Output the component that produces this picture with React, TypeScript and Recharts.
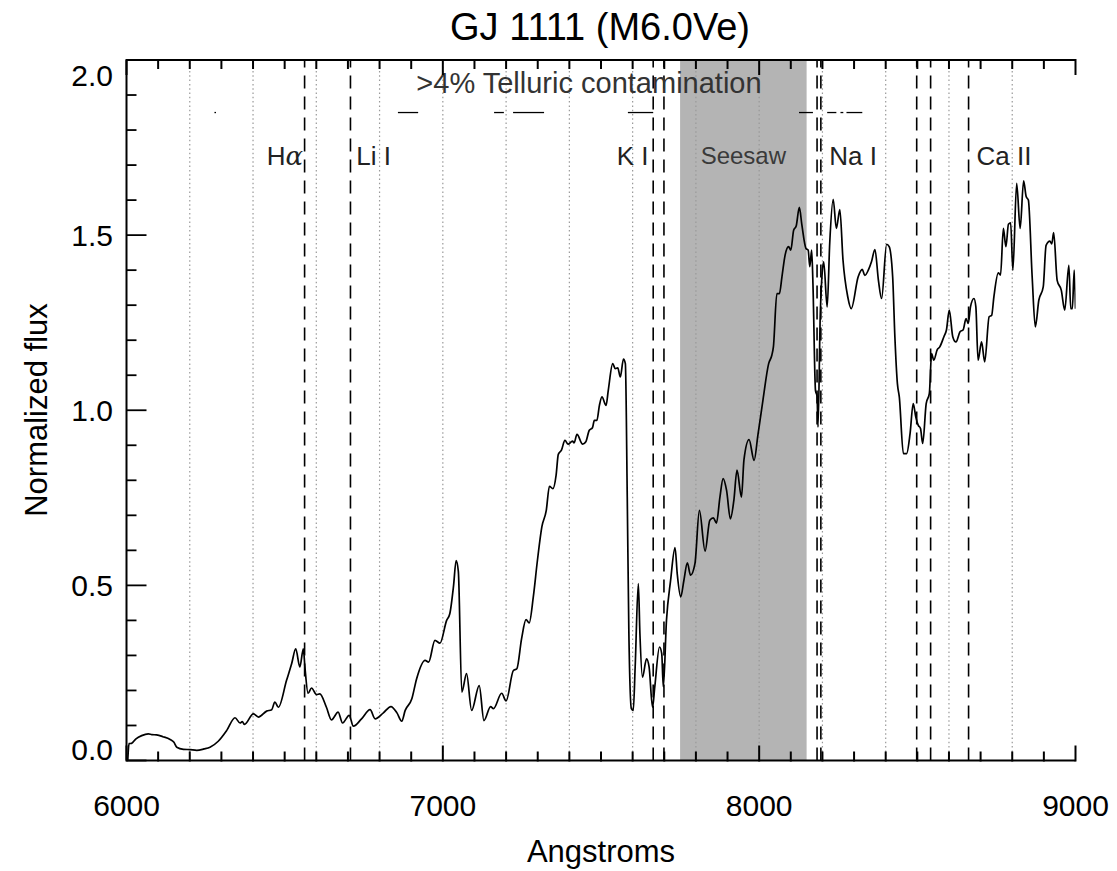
import { LineChart, Line, XAxis, YAxis, ReferenceLine, ReferenceArea, ReferenceDot } from 'recharts'

// spectrum (Angstroms, normalized flux)
const wavelength = [
  6004, 6008, 6016, 6030, 6048, 6069, 6080, 6095, 6115, 6138,
  6150, 6159, 6180, 6201, 6222, 6245, 6264, 6290, 6317, 6343,
  6359, 6366, 6373, 6401, 6417, 6443, 6459, 6469, 6480, 6506,
  6522, 6535, 6548, 6559, 6564, 6574, 6585, 6601, 6611, 6632,
  6648, 6669, 6683, 6704, 6717, 6743, 6770, 6786, 6812, 6836,
  6855, 6870, 6881, 6902, 6917, 6944, 6955, 6975, 6991, 7012,
  7022, 7034, 7042, 7049, 7060, 7075, 7091, 7115, 7130, 7151,
  7160, 7186, 7200, 7223, 7234, 7249, 7263, 7273, 7286, 7299,
  7313, 7327, 7337, 7348, 7358, 7365, 7375, 7386, 7396, 7410,
  7415, 7424, 7442, 7452, 7463, 7473, 7479, 7487, 7495, 7503,
  7516, 7523, 7537, 7545, 7553, 7561, 7571, 7577, 7583, 7588,
  7596, 7602, 7608, 7618, 7623, 7631, 7644, 7652, 7663, 7670,
  7685, 7692, 7697, 7707, 7720, 7734, 7741, 7752, 7762, 7773,
  7783, 7797, 7811, 7829, 7844, 7855, 7865, 7876, 7886, 7897,
  7909, 7920, 7930, 7944, 7952, 7968, 7984, 7996, 8012, 8030,
  8040, 8045, 8056, 8064, 8072, 8082, 8093, 8100, 8109, 8117,
  8127, 8135, 8148, 8155, 8160, 8166, 8170, 8178, 8183, 8186,
  8193, 8199, 8204, 8215, 8223, 8234, 8244, 8255, 8265, 8280,
  8291, 8313, 8326, 8334, 8345, 8355, 8366, 8377, 8387, 8403,
  8411, 8422, 8429, 8437, 8443, 8456, 8466, 8477, 8487, 8495,
  8503, 8510, 8517, 8528, 8538, 8545, 8552, 8563, 8571, 8584,
  8592, 8601, 8612, 8622, 8635, 8645, 8654, 8661, 8668, 8679,
  8685, 8692, 8703, 8713, 8727, 8735, 8742, 8756, 8763, 8772,
  8780, 8788, 8795, 8802, 8814, 8825, 8836, 8844, 8851, 8863,
  8873, 8884, 8898, 8907, 8919, 8925, 8931, 8942, 8955, 8966,
  8979, 8985, 8990, 8996, 9000,
]
const flux = [
  0.0, 0.048, 0.049, 0.062, 0.071, 0.076, 0.074, 0.073, 0.068, 0.06,
  0.052, 0.038, 0.032, 0.031, 0.029, 0.033, 0.038, 0.055, 0.086, 0.122,
  0.107, 0.111, 0.103, 0.133, 0.124, 0.141, 0.145, 0.167, 0.152, 0.229,
  0.276, 0.319, 0.267, 0.319, 0.267, 0.192, 0.207, 0.188, 0.19, 0.152,
  0.116, 0.138, 0.107, 0.129, 0.098, 0.119, 0.145, 0.119, 0.136, 0.154,
  0.136, 0.112, 0.143, 0.176, 0.233, 0.286, 0.281, 0.343, 0.335, 0.4,
  0.419, 0.5, 0.571, 0.54, 0.195, 0.248, 0.143, 0.214, 0.114, 0.154,
  0.148, 0.192, 0.17, 0.257, 0.262, 0.348, 0.402, 0.393, 0.467, 0.571,
  0.667, 0.714, 0.783, 0.776, 0.814, 0.874, 0.886, 0.914, 0.903, 0.912,
  0.907, 0.931, 0.903, 0.91, 0.943, 0.95, 0.971, 0.971, 1.014, 1.038,
  1.014, 1.057, 1.133, 1.119, 1.121, 1.095, 1.146, 1.133, 0.752, 0.371,
  0.148, 0.143, 0.267, 0.505, 0.362, 0.238, 0.29, 0.267, 0.152, 0.21,
  0.324, 0.305, 0.21, 0.4, 0.514, 0.608, 0.533, 0.467, 0.514, 0.564,
  0.529, 0.562, 0.714, 0.598, 0.686, 0.693, 0.678, 0.752, 0.805, 0.771,
  0.69, 0.743, 0.829, 0.752, 0.859, 0.916, 0.857, 0.929, 1.029, 1.133,
  1.157, 1.181, 1.333, 1.333, 1.381, 1.443, 1.467, 1.457, 1.514, 1.526,
  1.579, 1.529, 1.462, 1.457, 1.41, 1.457, 1.362, 1.057, 1.04, 0.952,
  1.267, 1.39, 1.424, 1.295, 1.476, 1.602, 1.519, 1.573, 1.429, 1.324,
  1.29, 1.381, 1.402, 1.385, 1.4, 1.424, 1.459, 1.371, 1.319, 1.474,
  1.467, 1.381, 1.21, 1.076, 1.038, 0.876, 0.876, 0.933, 1.019, 0.981,
  0.957, 0.948, 0.905, 1.019, 1.048, 1.162, 1.143, 1.173, 1.181, 1.21,
  1.229, 1.286, 1.21, 1.195, 1.224, 1.23, 1.262, 1.248, 1.295, 1.319,
  1.295, 1.143, 1.195, 1.138, 1.267, 1.271, 1.324, 1.392, 1.386, 1.519,
  1.467, 1.531, 1.535, 1.4, 1.648, 1.519, 1.655, 1.61, 1.6, 1.381,
  1.238, 1.314, 1.352, 1.471, 1.483, 1.475, 1.507, 1.371, 1.343, 1.286,
  1.414, 1.29, 1.29, 1.4, 1.29,
]

const xTicks = [
  6000, 6100, 6200, 6300, 6400, 6500, 6600, 6700, 6800, 6900,
  7000, 7100, 7200, 7300, 7400, 7500, 7600, 7700, 7800, 7900,
  8000, 8100, 8200, 8300, 8400, 8500, 8600, 8700, 8800, 8900, 9000,
]
const xTickLabels = [6000, 7000, 8000, 9000]
const yTicks = [0, 0.1, 0.2, 0.3, 0.4, 0.5, 0.6, 0.7, 0.8, 0.9, 1, 1.1, 1.2, 1.3, 1.4, 1.5, 1.6, 1.7, 1.8, 1.9, 2]
const yTickLabels = [0, 0.5, 1, 1.5, 2]

// dotted guides and dashed line centres
const dottedGuides = [6200, 6400, 6600, 6800, 7000, 7200, 7400, 7600, 7800, 8000, 8200, 8400, 8600, 8800]
const lineCentres = [6563, 6708, 7665, 7699, 8183, 8195, 8498, 8542, 8662]
const seesawRange = [7750, 8150]

const telluricLevel = 1.85
const telluricStart = [6278, 6858, 7162, 7222, 7585, 8126, 8215, 8257, 8276]
const telluricEnd = [6283, 6922, 7193, 7320, 7665, 8170, 8244, 8266, 8326]

const labelText = ['Hα', 'Li I', 'K I', 'Seesaw', 'Na I', 'Ca II']
const labelWave = [6501, 6781, 7600, 7950, 8297, 8774]
const labelFlux = [1.7, 1.7, 1.7, 1.703, 1.7, 1.7]

const font = '"Liberation Sans", Arial, Helvetica, sans-serif'

const spectrum = wavelength.map((w, i) => ({ w, f: flux[i] }))

function BottomTick({ x, y, payload }: any) {
  const major = xTickLabels.includes(payload.value)
  const len = major ? 15 : 9
  return (
    <g>
      <path d={`M${x},${y + 1}L${x},${y - len}`} stroke="#000" strokeWidth={2} fill="none" />
      {major && (
        <text x={x} y={y + 55.5} textAnchor="middle" fontSize={30} fontFamily={font} fill="#000">
          {payload.value}
        </text>
      )}
    </g>
  )
}

function TopTick({ x, y, payload }: any) {
  const len = xTickLabels.includes(payload.value) ? 15 : 9
  return <path d={`M${x},${y - 1}L${x},${y + len}`} stroke="#000" strokeWidth={2} fill="none" />
}

function LeftTick({ x, y, payload }: any) {
  const v = payload.value
  const major = yTickLabels.includes(v)
  const dy = v === 0 ? -0.5 : v === 2 ? 25.5 : 10.5
  return (
    <g>
      <path d={`M${x},${y}L${x + (major ? 20 : 10)},${y}`} stroke="#000" strokeWidth={1.8} />
      {major && (
        <text x={x - 13.5} y={y + dy} textAnchor="end" fontSize={30} fontFamily={font} fill="#000">
          {v.toFixed(1)}
        </text>
      )}
    </g>
  )
}

function RightTick({ x, y, payload }: any) {
  const major = yTickLabels.includes(payload.value)
  return <path d={`M${x},${y}L${x - (major ? 20 : 10)},${y}`} stroke="#000" strokeWidth={1.8} />
}

const axisIds = { xAxisId: 'bottom', yAxisId: 'left' }

export default function App() {
  return (
    <div style={{ position: 'relative', width: 1101, height: 863, fontFamily: font }}>
      <LineChart
        width={1101}
        height={863}
        data={spectrum}
        margin={{ top: 51, right: 33.5, bottom: 30.5, left: 0.5 }}
      >
        <XAxis
          xAxisId="bottom"
          dataKey="w"
          type="number"
          domain={[6000, 9000]}
          ticks={xTicks}
          interval={0}
          height={80}
          tickSize={0}
          tickMargin={0}
          tickLine={false}
          axisLine={{ stroke: '#000', strokeWidth: 2 }}
          tick={BottomTick}
          allowDataOverflow
        />
        <XAxis
          xAxisId="top"
          orientation="top"
          dataKey="w"
          type="number"
          domain={[6000, 9000]}
          ticks={xTicks}
          interval={0}
          height={1}
          tickSize={0}
          tickMargin={0}
          tickLine={false}
          axisLine={{ stroke: '#000', strokeWidth: 2 }}
          tick={TopTick}
          allowDataOverflow
        />
        <YAxis
          yAxisId="left"
          type="number"
          domain={[0, 2]}
          ticks={yTicks}
          interval={0}
          width={118}
          tickSize={0}
          tickMargin={0}
          tickLine={false}
          axisLine={{ stroke: '#000', strokeWidth: 2 }}
          tick={LeftTick}
          allowDataOverflow
        />
        <YAxis
          yAxisId="right"
          orientation="right"
          type="number"
          domain={[0, 2]}
          ticks={yTicks}
          interval={0}
          width={0}
          tickSize={0}
          tickMargin={0}
          tickLine={false}
          axisLine={{ stroke: '#000', strokeWidth: 2 }}
          tick={RightTick}
          allowDataOverflow
        />

        <ReferenceArea
          {...axisIds}
          x1={seesawRange[0]}
          x2={seesawRange[1]}
          fill="#b4b4b4"
          fillOpacity={1}
          stroke="none"
        />

        {dottedGuides.map(g => (
          <ReferenceLine key={`g${g}`} {...axisIds} x={g} stroke="#999" strokeWidth={1.2} strokeDasharray="1.5 2.8" />
        ))}

        {lineCentres.map(c => (
          <ReferenceLine key={`c${c}`} {...axisIds} x={c} stroke="#000" strokeWidth={1.6} strokeDasharray="13 8" />
        ))}

        {telluricStart.map((s, i) => (
          <ReferenceLine
            key={`t${s}`}
            {...axisIds}
            segment={[{ x: s, y: telluricLevel }, { x: telluricEnd[i], y: telluricLevel }]}
            stroke="#000"
            strokeWidth={1.3}
          />
        ))}

        <ReferenceDot
          {...axisIds}
          x={7462}
          y={1.906}
          r={0}
          shape={(p: any) => (
            <text x={p.cx} y={p.cy} textAnchor="middle" fontSize={29} fontFamily={font} fill="#333">
              &gt;4% Telluric contamination
            </text>
          )}
        />

        {labelText.map((t, i) => (
          <ReferenceDot
            key={t}
            {...axisIds}
            x={labelWave[i]}
            y={labelFlux[i]}
            r={0}
            shape={(p: any) => (
              <text
                x={p.cx}
                y={p.cy}
                textAnchor="middle"
                fontSize={t === 'Seesaw' ? 24 : 26}
                fontFamily={font}
                fill={t === 'Seesaw' ? '#3a3a3a' : '#222'}
              >
                {t === 'Hα' ? (
                  <>
                    H<tspan fontStyle="italic" fontFamily='"DejaVu Serif", serif'>α</tspan>
                  </>
                ) : (
                  t
                )}
              </text>
            )}
          />
        ))}

        <Line
          {...axisIds}
          type="monotone"
          dataKey="f"
          stroke="#000"
          strokeWidth={1.7}
          dot={false}
          activeDot={false}
          isAnimationActive={false}
        />
      </LineChart>

      <svg
        width={1101}
        height={863}
        style={{ position: 'absolute', left: 0, top: 0, pointerEvents: 'none', overflow: 'visible' }}
      >
        <text x={592} y={32} textAnchor="middle" fontSize={38} fontFamily={font} fill="#000">
          GJ 1111 (M6.0Ve)
        </text>
        <text x={593} y={854} textAnchor="middle" fontSize={31} fontFamily={font} fill="#000">
          Angstroms
        </text>
        <text transform="translate(39,402) rotate(-90)" textAnchor="middle" fontSize={31} fontFamily={font} fill="#000">
          Normalized flux
        </text>
      </svg>
    </div>
  )
}
